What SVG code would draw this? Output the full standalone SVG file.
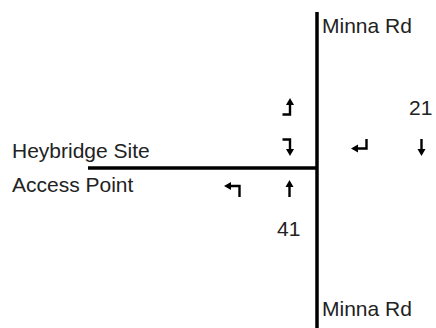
<svg xmlns="http://www.w3.org/2000/svg" width="436" height="328" viewBox="0 0 436 328">
<style>
text{font-family:"Liberation Sans",Arial,sans-serif;font-size:21px;fill:#222}
.road{stroke:#000;stroke-width:3.5;fill:none}
.arr{stroke:#000;stroke-width:2.4;fill:none}
.head{fill:#000}
</style>
<rect width="436" height="328" fill="#fff"/>
<g id="connectors">
<line id="minna-rd" class="road" x1="317" y1="12" x2="317" y2="328"/>
<line id="access-road" class="road" x1="88" y1="168" x2="317" y2="168"/>
</g>
<g id="label-minna-north"><text x="322" y="33">Minna Rd</text></g>
<g id="label-minna-south"><text x="322" y="316">Minna Rd</text></g>
<g id="label-site"><text x="12" y="158">Heybridge Site</text><text x="12" y="192">Access Point</text></g>
<g id="label-21"><text x="409" y="115">21</text></g>
<g id="label-41"><text x="277" y="236">41</text></g>
<g id="arrows">
<path class="arr" d="M282.5 114.5H290V104"/><path class="head" d="M286 105L290 98L294 105Z"/>
<path class="arr" d="M282.5 139.5H290V150"/><path class="head" d="M286 149L290 156L294 149Z"/>
<path class="arr" d="M366.5 139V148.5H358"/><path class="head" d="M358 144.5L351 148.5L358 152.5Z"/>
<path class="arr" d="M421.5 139V150"/><path class="head" d="M417.5 149L421.5 156L425.5 149Z"/>
<path class="arr" d="M239.5 197V186H231"/><path class="head" d="M231 182L224 186L231 190Z"/>
<path class="arr" d="M289.5 197V186"/><path class="head" d="M285.5 187L289.5 180L293.5 187Z"/>
</g>
</svg>
